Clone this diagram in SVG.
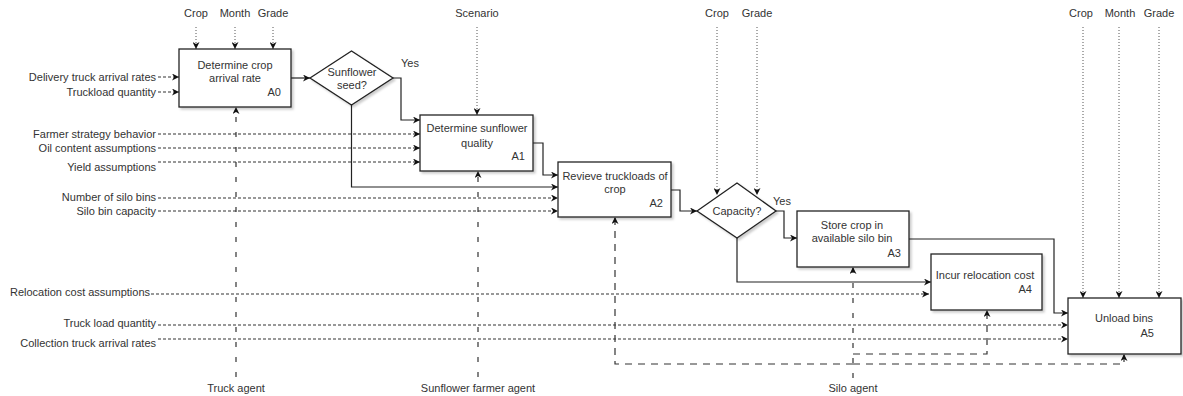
<svg xmlns="http://www.w3.org/2000/svg" width="1183" height="396" viewBox="0 0 1183 396">
<style>
text{font-family:"Liberation Sans",Arial,sans-serif;font-size:11px;fill:#333}
.c{text-anchor:middle}
.e{text-anchor:end}
.box{fill:#fff;stroke:#222;stroke-width:1.3;filter:url(#sh)}
.flow{fill:none;stroke:#222;stroke-width:1.2;marker-end:url(#arr)}
.in{fill:none;stroke:#333;stroke-width:1.1;stroke-dasharray:3 2;marker-end:url(#arr)}
.ctl{fill:none;stroke:#555;stroke-width:1;stroke-dasharray:1 2;marker-end:url(#arr)}
.mv{fill:none;stroke:#333;stroke-width:1.2;stroke-dasharray:5 10;marker-end:url(#arr)}
.mh{fill:none;stroke:#333;stroke-width:1.2;stroke-dasharray:7 6;marker-end:url(#arr)}
</style>
<defs>
<marker id="arr" viewBox="0 0 10 10" refX="10" refY="5" markerWidth="7" markerHeight="7" markerUnits="userSpaceOnUse" orient="auto">
<path d="M0,0 L10,5 L0,10 L3,5 z" fill="#111"/>
</marker>
<filter id="sh" x="-10%" y="-10%" width="130%" height="140%">
<feDropShadow dx="2" dy="2" stdDeviation="1.2" flood-color="#000" flood-opacity="0.2"/>
</filter>
</defs>

<g id="connectors">
<path class="flow" d="M291,78 H310"/>
<path class="flow" d="M393,78 H401 V120 H420"/>
<path class="flow" d="M351.5,105 V187 H558"/>
<path class="flow" d="M533,143 H543 V175 H558"/>
<path class="flow" d="M671,190 H680 V211 H697"/>
<path class="flow" d="M776,211 H784 V238 H797"/>
<path class="flow" d="M737,238 V282 H931"/>
<path class="flow" d="M909,239 H1054 V313 H1068"/>

<path class="in" d="M158,77 H179"/>
<path class="in" d="M158,92 H179"/>
<path class="in" d="M158,134 H420"/>
<path class="in" d="M158,148 H420"/>
<path class="in" d="M158,162 H420"/>
<path class="in" d="M158,198 H558"/>
<path class="in" d="M158,211 H558"/>
<path class="in" d="M151,294 H929"/>
<path class="in" d="M158,325 H1068"/>
<path class="in" d="M158,339 H1068"/>

<path class="ctl" d="M196,27 V49"/>
<path class="ctl" d="M235,27 V49"/>
<path class="ctl" d="M273,27 V49"/>
<path class="ctl" d="M477,27 V115"/>
<path class="ctl" d="M717,27 V195"/>
<path class="ctl" d="M757,27 V195"/>
<path class="ctl" d="M1083,27 V298"/>
<path class="ctl" d="M1119,27 V298"/>
<path class="ctl" d="M1159,27 V298"/>

<path class="mv" d="M236,377 V107"/>
<path class="mv" d="M478,377 V171"/>
<path class="mv" d="M853,378 V267"/>
<path class="mh" d="M853,354 H987 V310"/>
<path class="mh" d="M853,364 H615 V217"/>
<path class="mh" d="M853,364 H1124 V354"/>
</g>

<g id="A0">
<rect class="box" x="179" y="49" width="112" height="58"/>
<text class="c" x="235" y="69">Determine crop</text>
<text class="c" x="235" y="82">arrival rate</text>
<text class="e" x="281" y="96">A0</text>
</g>
<g id="D1">
<polygon class="box" points="310,78 351.5,51 393,78 351.5,105"/>
<text class="c" x="352" y="76">Sunflower</text>
<text class="c" x="352" y="89">seed?</text>
<text class="c" x="410" y="67">Yes</text>
</g>
<g id="A1">
<rect class="box" x="420" y="115" width="113" height="56"/>
<text class="c" x="477" y="132">Determine sunflower</text>
<text class="c" x="477" y="147">quality</text>
<text class="e" x="525" y="160">A1</text>
</g>
<g id="A2">
<rect class="box" x="558" y="162" width="113" height="55"/>
<text class="c" x="615" y="180">Revieve truckloads of</text>
<text class="c" x="615" y="193">crop</text>
<text class="e" x="663" y="207">A2</text>
</g>
<g id="D2">
<polygon class="box" points="697,211 737,183 776,211 737,238"/>
<text class="c" x="737" y="215">Capacity?</text>
<text class="c" x="782" y="205">Yes</text>
</g>
<g id="A3">
<rect class="box" x="797" y="211" width="112" height="56"/>
<text class="c" x="852" y="229">Store crop in</text>
<text class="c" x="852" y="242">available silo bin</text>
<text class="e" x="901" y="257">A3</text>
</g>
<g id="A4">
<rect class="box" x="931" y="254" width="111" height="56"/>
<text class="c" x="985" y="279">Incur relocation cost</text>
<text class="e" x="1032" y="293">A4</text>
</g>
<g id="A5">
<rect class="box" x="1068" y="298" width="113" height="56"/>
<text class="c" x="1124" y="322">Unload bins</text>
<text class="e" x="1154" y="337">A5</text>
</g>

<g id="labels">
<text class="c" x="196" y="17">Crop</text>
<text class="c" x="235" y="17">Month</text>
<text class="c" x="273" y="17">Grade</text>
<text class="c" x="477" y="17">Scenario</text>
<text class="c" x="717" y="17">Crop</text>
<text class="c" x="757" y="17">Grade</text>
<text class="c" x="1081" y="17">Crop</text>
<text class="c" x="1120" y="17">Month</text>
<text class="c" x="1159" y="17">Grade</text>

<text class="e" x="156" y="81">Delivery truck arrival rates</text>
<text class="e" x="156" y="96">Truckload quantity</text>
<text class="e" x="156" y="138">Farmer strategy behavior</text>
<text class="e" x="156" y="152">Oil content assumptions</text>
<text class="e" x="156" y="171">Yield assumptions</text>
<text class="e" x="156" y="201">Number of silo bins</text>
<text class="e" x="156" y="215">Silo bin capacity</text>
<text class="e" x="150" y="296">Relocation cost assumptions</text>
<text class="e" x="156" y="327">Truck load quantity</text>
<text class="e" x="156" y="347">Collection truck arrival rates</text>

<text class="c" x="236" y="392">Truck agent</text>
<text class="c" x="478" y="392">Sunflower farmer agent</text>
<text class="c" x="853" y="392">Silo agent</text>
</g>
</svg>
